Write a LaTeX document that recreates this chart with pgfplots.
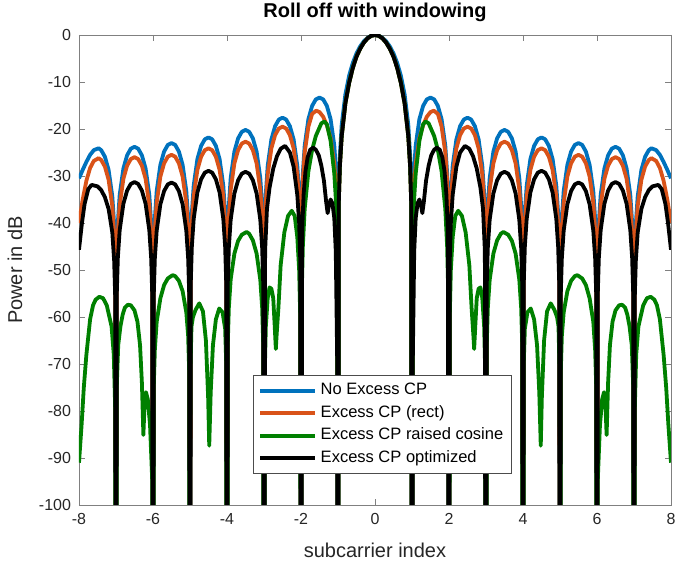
\documentclass[border=0pt]{standalone}
\usepackage{fontspec}
\setmainfont{Liberation Sans}
\usepackage{pgfplots}
\pgfplotsset{compat=1.18}
\definecolor{mblue}{rgb}{0,0.447,0.741}
\definecolor{morange}{rgb}{0.85,0.325,0.098}
\definecolor{mgreen}{rgb}{0,0.5,0}
\definecolor{axgray}{rgb}{0.15,0.15,0.15}
\begin{document}
\begin{tikzpicture}
\useasboundingbox (-79pt,-58pt) rectangle (599pt,505pt);
\begin{axis}[
 at={(0pt,0pt)}, anchor=south west,
 scale only axis, width=592pt, height=470pt,
 xmin=-8, xmax=8, ymin=-100, ymax=0,
 xtick={-8,-6,-4,-2,0,2,4,6,8},
 ytick={-100,-90,-80,-70,-60,-50,-40,-30,-20,-10,0},
 tick align=inside,
 major tick length=6pt,
 axis line style={draw=black!50, line width=0.9pt},
 every tick/.style={draw=black!50, line width=0.9pt},
 tick label style={font=\fontsize{16}{18}\selectfont, text=axgray},
 xticklabel style={yshift=-4.5pt},
 yticklabel style={xshift=-4.5pt},
 /pgf/number format/assume math mode=true,
 xlabel={subcarrier index}, ylabel={Power in dB},
 xlabel style={font=\fontsize{20}{22}\selectfont, text=axgray, at={(axis description cs:0.5,-0.0957)}, anchor=center},
 ylabel style={font=\fontsize{20}{22}\selectfont, text=axgray, at={(axis description cs:-0.108,0.5)}, anchor=center},
 title={Roll off with windowing},
 title style={font=\bfseries\fontsize{20}{22}\selectfont, at={(axis description cs:0.5,1.036)}, anchor=center},
 legend style={at={(0.294,0.2766)}, anchor=north west, draw=black!70, line width=0.8pt, font=\fontsize{16.5}{18}\selectfont, inner xsep=5pt, inner ysep=4pt, row sep=0pt, nodes={inner sep=3.5pt, text height=12pt, text depth=3.5pt}},
 legend cell align=left,
 legend image code/.code={\draw[#1] (0pt,0pt) -- (55pt,0pt);},
 clip=true,
]
\addplot[mblue, line width=3.8pt, line join=round] coordinates {
(-8,-30.5)(-7.9,-28.7)(-7.8,-27)(-7.7,-25.5)(-7.6,-24.5)(-7.47,-24.1)(-7.4,-24.5)(-7.3,-25.9)(-7.2,-28.7)(-7.1,-34.3)(-7.05,-40.2)(-7.02,-48.1)(-7,-250)
(-6.98,-47.8)(-6.95,-39.9)(-6.9,-34)(-6.8,-28.4)(-6.7,-25.6)(-6.6,-24.2)(-6.5,-23.8)(-6.4,-24.2)(-6.3,-25.6)(-6.2,-28.4)(-6.1,-34)(-6.05,-39.9)(-6.02,-47.8)(-6,-250)
(-5.98,-47)(-5.95,-39.1)(-5.9,-33.2)(-5.8,-27.6)(-5.7,-24.8)(-5.6,-23.4)(-5.5,-23)(-5.4,-23.4)(-5.3,-24.8)(-5.2,-27.6)(-5.1,-33.2)(-5.05,-39.1)(-5.02,-47)(-5,-250)
(-4.98,-45.8)(-4.95,-37.9)(-4.9,-32)(-4.8,-26.4)(-4.7,-23.6)(-4.6,-22.2)(-4.5,-21.8)(-4.4,-22.2)(-4.3,-23.6)(-4.2,-26.4)(-4.1,-32)(-4.05,-37.9)(-4.02,-45.8)(-4,-250)
(-3.98,-44.2)(-3.95,-36.3)(-3.9,-30.4)(-3.8,-24.8)(-3.7,-22)(-3.6,-20.6)(-3.5,-20.2)(-3.4,-20.6)(-3.3,-22)(-3.2,-24.8)(-3.1,-30.4)(-3.05,-36.3)(-3.02,-44.2)(-3,-250)
(-2.98,-41.6)(-2.95,-33.7)(-2.9,-27.8)(-2.8,-22.2)(-2.7,-19.4)(-2.6,-18)(-2.5,-17.6)(-2.4,-18)(-2.3,-19.4)(-2.2,-22.2)(-2.1,-27.8)(-2.05,-33.7)(-2.02,-41.6)(-2,-250)
(-1.98,-37.3)(-1.95,-29.4)(-1.9,-23.5)(-1.8,-17.9)(-1.7,-15.1)(-1.6,-13.7)(-1.5,-13.3)(-1.4,-13.7)(-1.3,-15.1)(-1.2,-17.9)(-1.1,-23.5)(-1.05,-29.4)(-1.02,-37.3)(-1,-250)
(-0.98,-33.8)(-0.95,-25.6)(-0.9,-19.1)(-0.8,-12.6)(-0.7,-8.67)(-0.6,-5.94)(-0.5,-3.92)(-0.4,-2.42)(-0.3,-1.32)(-0.2,-0.58)(-0.1,-0.14)(0,0)
(0.1,-0.14)(0.2,-0.58)(0.3,-1.32)(0.4,-2.42)(0.5,-3.92)(0.6,-5.94)(0.7,-8.67)(0.8,-12.6)(0.9,-19.1)(0.95,-25.6)(0.98,-33.8)(1,-250)
(1.02,-37.3)(1.05,-29.4)(1.1,-23.5)(1.2,-17.9)(1.3,-15.1)(1.4,-13.7)(1.5,-13.3)(1.6,-13.7)(1.7,-15.1)(1.8,-17.9)(1.9,-23.5)(1.95,-29.4)(1.98,-37.3)(2,-250)
(2.02,-41.6)(2.05,-33.7)(2.1,-27.8)(2.2,-22.2)(2.3,-19.4)(2.4,-18)(2.5,-17.6)(2.6,-18)(2.7,-19.4)(2.8,-22.2)(2.9,-27.8)(2.95,-33.7)(2.98,-41.6)(3,-250)
(3.02,-44.2)(3.05,-36.3)(3.1,-30.4)(3.2,-24.8)(3.3,-22)(3.4,-20.6)(3.5,-20.2)(3.6,-20.6)(3.7,-22)(3.8,-24.8)(3.9,-30.4)(3.95,-36.3)(3.98,-44.2)(4,-250)
(4.02,-45.8)(4.05,-37.9)(4.1,-32)(4.2,-26.4)(4.3,-23.6)(4.4,-22.2)(4.5,-21.8)(4.6,-22.2)(4.7,-23.6)(4.8,-26.4)(4.9,-32)(4.95,-37.9)(4.98,-45.8)(5,-250)
(5.02,-47)(5.05,-39.1)(5.1,-33.2)(5.2,-27.6)(5.3,-24.8)(5.4,-23.4)(5.5,-23)(5.6,-23.4)(5.7,-24.8)(5.8,-27.6)(5.9,-33.2)(5.95,-39.1)(5.98,-47)(6,-250)
(6.02,-47.8)(6.05,-39.9)(6.1,-34)(6.2,-28.4)(6.3,-25.6)(6.4,-24.2)(6.5,-23.8)(6.6,-24.2)(6.7,-25.6)(6.8,-28.4)(6.9,-34)(6.95,-39.9)(6.98,-47.8)(7,-250)
(7.02,-48.1)(7.05,-40.2)(7.1,-34.3)(7.2,-28.7)(7.3,-25.9)(7.4,-24.5)(7.47,-24.1)(7.6,-24.5)(7.7,-25.5)(7.8,-27)(7.9,-28.7)(8,-30.5)
};
\addlegendentry{No Excess CP}
\addplot[morange, line width=3.8pt, line join=round] coordinates {
(-8,-40)(-7.9,-35)(-7.8,-31)(-7.7,-28.3)(-7.6,-26.8)(-7.47,-26.2)(-7.4,-26.6)(-7.3,-28)(-7.2,-30.8)(-7.1,-36.4)(-7.05,-42.3)(-7.02,-50.2)(-7,-250)
(-6.98,-50)(-6.95,-42.1)(-6.9,-36.2)(-6.8,-30.6)(-6.7,-27.8)(-6.6,-26.4)(-6.5,-26)(-6.4,-26.4)(-6.3,-27.8)(-6.2,-30.6)(-6.1,-36.2)(-6.05,-42.1)(-6.02,-50)(-6,-250)
(-5.98,-49.5)(-5.95,-41.6)(-5.9,-35.7)(-5.8,-30.1)(-5.7,-27.3)(-5.6,-25.9)(-5.5,-25.5)(-5.4,-25.9)(-5.3,-27.3)(-5.2,-30.1)(-5.1,-35.7)(-5.05,-41.6)(-5.02,-49.5)(-5,-250)
(-4.98,-48.1)(-4.95,-40.2)(-4.9,-34.3)(-4.8,-28.7)(-4.7,-25.9)(-4.6,-24.5)(-4.5,-24.1)(-4.4,-24.5)(-4.3,-25.9)(-4.2,-28.7)(-4.1,-34.3)(-4.05,-40.2)(-4.02,-48.1)(-4,-250)
(-3.98,-46.7)(-3.95,-38.8)(-3.9,-32.9)(-3.8,-27.3)(-3.7,-24.5)(-3.6,-23.1)(-3.5,-22.7)(-3.4,-23.1)(-3.3,-24.5)(-3.2,-27.3)(-3.1,-32.9)(-3.05,-38.8)(-3.02,-46.7)(-3,-250)
(-2.98,-43.5)(-2.95,-35.6)(-2.9,-29.7)(-2.8,-24.1)(-2.7,-21.3)(-2.6,-19.9)(-2.5,-19.5)(-2.4,-19.9)(-2.3,-21.3)(-2.2,-24.1)(-2.1,-29.7)(-2.05,-35.6)(-2.02,-43.5)(-2,-250)
(-1.98,-39)(-1.95,-31)(-1.9,-25)(-1.8,-19.5)(-1.7,-16.8)(-1.59,-16.1)(-1.5,-16.4)(-1.4,-17.4)(-1.3,-19.2)(-1.2,-22)(-1.1,-27.5)(-1.05,-33)(-1.02,-40)(-1,-250)
(-0.98,-36)(-0.95,-28)(-0.9,-21.5)(-0.8,-14.5)(-0.7,-10.2)(-0.6,-7)(-0.5,-4.6)(-0.4,-2.9)(-0.3,-1.6)(-0.2,-0.7)(-0.1,-0.17)(0,0)
(0.1,-0.17)(0.2,-0.7)(0.3,-1.6)(0.4,-2.9)(0.5,-4.6)(0.6,-7)(0.7,-10.2)(0.8,-14.5)(0.9,-21.5)(0.95,-28)(0.98,-36)(1,-250)
(1.02,-40)(1.05,-33)(1.1,-27.5)(1.2,-22)(1.3,-19.2)(1.4,-17.4)(1.5,-16.4)(1.59,-16.1)(1.7,-16.8)(1.8,-19.5)(1.9,-25)(1.95,-31)(1.98,-39)(2,-250)
(2.02,-43.5)(2.05,-35.6)(2.1,-29.7)(2.2,-24.1)(2.3,-21.3)(2.4,-19.9)(2.5,-19.5)(2.6,-19.9)(2.7,-21.3)(2.8,-24.1)(2.9,-29.7)(2.95,-35.6)(2.98,-43.5)(3,-250)
(3.02,-46.7)(3.05,-38.8)(3.1,-32.9)(3.2,-27.3)(3.3,-24.5)(3.4,-23.1)(3.5,-22.7)(3.6,-23.1)(3.7,-24.5)(3.8,-27.3)(3.9,-32.9)(3.95,-38.8)(3.98,-46.7)(4,-250)
(4.02,-48.1)(4.05,-40.2)(4.1,-34.3)(4.2,-28.7)(4.3,-25.9)(4.4,-24.5)(4.5,-24.1)(4.6,-24.5)(4.7,-25.9)(4.8,-28.7)(4.9,-34.3)(4.95,-40.2)(4.98,-48.1)(5,-250)
(5.02,-49.5)(5.05,-41.6)(5.1,-35.7)(5.2,-30.1)(5.3,-27.3)(5.4,-25.9)(5.5,-25.5)(5.6,-25.9)(5.7,-27.3)(5.8,-30.1)(5.9,-35.7)(5.95,-41.6)(5.98,-49.5)(6,-250)
(6.02,-50)(6.05,-42.1)(6.1,-36.2)(6.2,-30.6)(6.3,-27.8)(6.4,-26.4)(6.5,-26)(6.6,-26.4)(6.7,-27.8)(6.8,-30.6)(6.9,-36.2)(6.95,-42.1)(6.98,-50)(7,-250)
(7.02,-50.2)(7.05,-42.3)(7.1,-36.4)(7.2,-30.8)(7.3,-28)(7.4,-26.6)(7.47,-26.2)(7.6,-26.8)(7.7,-28.3)(7.8,-31)(7.9,-35)(8,-40)
};
\addlegendentry{Excess CP (rect)}
\addplot[mgreen, line width=3.8pt, line join=round] coordinates {
(-8,-91)(-7.93,-83)(-7.87,-75)(-7.8,-68)(-7.7,-60.5)(-7.62,-57.5)(-7.55,-56.3)(-7.45,-55.7)(-7.35,-56)(-7.25,-57.5)(-7.12,-62)(-7.06,-68)(-7.02,-80)(-7,-250)
(-6.98,-75)(-6.94,-66)(-6.88,-62)(-6.82,-59.5)(-6.76,-58)(-6.68,-57.4)(-6.6,-57.5)(-6.5,-58.6)(-6.42,-61)(-6.35,-66)(-6.3,-74)(-6.26,-85.1)(-6.23,-79)(-6.19,-76)(-6.14,-77.5)(-6.08,-83)(-6.02,-95)(-6,-250)
(-5.98,-75)(-5.95,-67)(-5.9,-61)(-5.8,-56)(-5.7,-53.2)(-5.6,-51.8)(-5.47,-51.1)(-5.4,-51.3)(-5.3,-52.3)(-5.2,-54.5)(-5.1,-59)(-5.05,-64)(-5.02,-72)(-5,-250)
(-4.99,-72)(-4.96,-62)(-4.92,-60)(-4.85,-58.5)(-4.75,-57.1)(-4.65,-58.8)(-4.57,-65)(-4.51,-77)(-4.48,-87.4)(-4.44,-76)(-4.38,-66)(-4.3,-60.5)(-4.21,-58.2)(-4.12,-59)(-4.05,-62.5)(-4.02,-70)(-4,-250)
(-3.98,-66)(-3.95,-58)(-3.9,-52)(-3.8,-46.5)(-3.7,-43.8)(-3.6,-42.5)(-3.47,-41.9)(-3.4,-42.3)(-3.3,-43.7)(-3.2,-46.5)(-3.1,-52.1)(-3.05,-58)(-3.02,-66)(-3,-250)
(-2.98,-72)(-2.95,-62)(-2.9,-56)(-2.85,-53.7)(-2.8,-54)(-2.75,-56)(-2.71,-62)(-2.68,-66.8)(-2.66,-64)(-2.61,-58)(-2.55,-49)(-2.45,-42)(-2.35,-38.5)(-2.25,-37.4)(-2.17,-38.5)(-2.1,-43)(-2.05,-50)(-2.02,-60)(-2,-250)
(-1.98,-55)(-1.95,-45)(-1.9,-37)(-1.8,-29)(-1.7,-24.5)(-1.6,-21.5)(-1.45,-18.8)(-1.37,-18.4)(-1.3,-19)(-1.2,-22.5)(-1.1,-29.5)(-1.05,-36)(-1.02,-45)(-1,-250)
(-0.98,-36)(-0.95,-28)(-0.9,-21.5)(-0.8,-14.5)(-0.7,-10.2)(-0.6,-7)(-0.5,-4.6)(-0.4,-2.9)(-0.3,-1.6)(-0.2,-0.7)(-0.1,-0.17)(0,0)
(0.1,-0.17)(0.2,-0.7)(0.3,-1.6)(0.4,-2.9)(0.5,-4.6)(0.6,-7)(0.7,-10.2)(0.8,-14.5)(0.9,-21.5)(0.95,-28)(0.98,-36)(1,-250)
(1.02,-45)(1.05,-36)(1.1,-29.5)(1.2,-22.5)(1.3,-19)(1.37,-18.4)(1.45,-18.8)(1.6,-21.5)(1.7,-24.5)(1.8,-29)(1.9,-37)(1.95,-45)(1.98,-55)(2,-250)
(2.02,-60)(2.05,-50)(2.1,-43)(2.17,-38.5)(2.25,-37.4)(2.35,-38.5)(2.45,-42)(2.55,-49)(2.61,-58)(2.66,-64)(2.68,-66.8)(2.71,-62)(2.75,-56)(2.8,-54)(2.85,-53.7)(2.9,-56)(2.95,-62)(2.98,-72)(3,-250)
(3.02,-66)(3.05,-58)(3.1,-52.1)(3.2,-46.5)(3.3,-43.7)(3.4,-42.3)(3.47,-41.9)(3.6,-42.5)(3.7,-43.8)(3.8,-46.5)(3.9,-52)(3.95,-58)(3.98,-66)(4,-250)
(4.02,-70)(4.05,-62.5)(4.12,-59)(4.21,-58.2)(4.3,-60.5)(4.38,-66)(4.44,-76)(4.48,-87.4)(4.51,-77)(4.57,-65)(4.65,-58.8)(4.75,-57.1)(4.85,-58.5)(4.92,-60)(4.96,-62)(4.99,-72)(5,-250)
(5.02,-72)(5.05,-64)(5.1,-59)(5.2,-54.5)(5.3,-52.3)(5.4,-51.3)(5.47,-51.1)(5.6,-51.8)(5.7,-53.2)(5.8,-56)(5.9,-61)(5.95,-67)(5.98,-75)(6,-250)
(6.02,-95)(6.08,-83)(6.14,-77.5)(6.19,-76)(6.23,-79)(6.26,-85.1)(6.3,-74)(6.35,-66)(6.42,-61)(6.5,-58.6)(6.6,-57.5)(6.68,-57.4)(6.76,-58)(6.82,-59.5)(6.88,-62)(6.94,-66)(6.98,-75)(7,-250)
(7.02,-80)(7.06,-68)(7.12,-62)(7.25,-57.5)(7.35,-56)(7.45,-55.7)(7.55,-56.3)(7.62,-57.5)(7.7,-60.5)(7.8,-68)(7.87,-75)(7.93,-83)(8,-91)
};
\addlegendentry{Excess CP raised cosine}
\addplot[black, line width=3.8pt, line join=round] coordinates {
(-8,-45.7)(-7.92,-40)(-7.85,-36)(-7.75,-32.8)(-7.66,-31.9)(-7.5,-32.2)(-7.4,-33)(-7.3,-34.5)(-7.2,-37)(-7.1,-42)(-7.05,-48)(-7.02,-56)(-7,-250)
(-6.98,-55.3)(-6.95,-47.4)(-6.9,-41.5)(-6.8,-35.9)(-6.7,-33.1)(-6.6,-31.7)(-6.5,-31.3)(-6.4,-31.7)(-6.3,-33.1)(-6.2,-35.9)(-6.1,-41.5)(-6.05,-47.4)(-6.02,-55.3)(-6,-250)
(-5.98,-55.4)(-5.95,-47.5)(-5.9,-41.6)(-5.8,-36)(-5.7,-33.2)(-5.6,-31.8)(-5.5,-31.4)(-5.4,-31.8)(-5.3,-33.2)(-5.2,-36)(-5.1,-41.6)(-5.05,-47.5)(-5.02,-55.4)(-5,-250)
(-4.98,-52.9)(-4.95,-45)(-4.9,-39.1)(-4.8,-33.5)(-4.7,-30.7)(-4.6,-29.3)(-4.5,-28.9)(-4.4,-29.3)(-4.3,-30.7)(-4.2,-33.5)(-4.1,-39.1)(-4.05,-45)(-4.02,-52.9)(-4,-250)
(-3.98,-53.1)(-3.95,-45.2)(-3.9,-39.3)(-3.8,-33.7)(-3.7,-30.9)(-3.6,-29.5)(-3.5,-29.1)(-3.4,-29.5)(-3.3,-30.9)(-3.2,-33.7)(-3.1,-39.3)(-3.05,-45.2)(-3.02,-53.1)(-3,-250)
(-2.97,-46)(-2.92,-37)(-2.85,-32.5)(-2.75,-28.4)(-2.65,-25.8)(-2.55,-24.2)(-2.43,-23.6)(-2.3,-25)(-2.2,-28)(-2.1,-34)(-2.05,-40)(-2.02,-48)(-2,-250)
(-1.97,-42)(-1.93,-34)(-1.88,-29)(-1.82,-26)(-1.75,-24.4)(-1.67,-24)(-1.6,-24.4)(-1.52,-25.6)(-1.45,-27.8)(-1.38,-31)(-1.32,-35.5)(-1.28,-37.9)(-1.25,-36.5)(-1.2,-35)(-1.15,-35.8)(-1.1,-39)(-1.06,-46)(-1.02,-70)(-1,-250)
(-0.98,-36)(-0.95,-28)(-0.9,-21.5)(-0.8,-14.5)(-0.7,-10.2)(-0.6,-7)(-0.5,-4.6)(-0.4,-2.9)(-0.3,-1.6)(-0.2,-0.7)(-0.1,-0.17)(0,0)
(0.1,-0.17)(0.2,-0.7)(0.3,-1.6)(0.4,-2.9)(0.5,-4.6)(0.6,-7)(0.7,-10.2)(0.8,-14.5)(0.9,-21.5)(0.95,-28)(0.98,-36)(1,-250)
(1.02,-70)(1.06,-46)(1.1,-39)(1.15,-35.8)(1.2,-35)(1.25,-36.5)(1.28,-37.9)(1.32,-35.5)(1.38,-31)(1.45,-27.8)(1.52,-25.6)(1.6,-24.4)(1.67,-24)(1.75,-24.4)(1.82,-26)(1.88,-29)(1.93,-34)(1.97,-42)(2,-250)
(2.02,-48)(2.05,-40)(2.1,-34)(2.2,-28)(2.3,-25)(2.43,-23.6)(2.55,-24.2)(2.65,-25.8)(2.75,-28.4)(2.85,-32.5)(2.92,-37)(2.97,-46)(3,-250)
(3.02,-53.1)(3.05,-45.2)(3.1,-39.3)(3.2,-33.7)(3.3,-30.9)(3.4,-29.5)(3.5,-29.1)(3.6,-29.5)(3.7,-30.9)(3.8,-33.7)(3.9,-39.3)(3.95,-45.2)(3.98,-53.1)(4,-250)
(4.02,-52.9)(4.05,-45)(4.1,-39.1)(4.2,-33.5)(4.3,-30.7)(4.4,-29.3)(4.5,-28.9)(4.6,-29.3)(4.7,-30.7)(4.8,-33.5)(4.9,-39.1)(4.95,-45)(4.98,-52.9)(5,-250)
(5.02,-55.4)(5.05,-47.5)(5.1,-41.6)(5.2,-36)(5.3,-33.2)(5.4,-31.8)(5.5,-31.4)(5.6,-31.8)(5.7,-33.2)(5.8,-36)(5.9,-41.6)(5.95,-47.5)(5.98,-55.4)(6,-250)
(6.02,-55.3)(6.05,-47.4)(6.1,-41.5)(6.2,-35.9)(6.3,-33.1)(6.4,-31.7)(6.5,-31.3)(6.6,-31.7)(6.7,-33.1)(6.8,-35.9)(6.9,-41.5)(6.95,-47.4)(6.98,-55.3)(7,-250)
(7.02,-56)(7.05,-48)(7.1,-42)(7.2,-37)(7.3,-34.5)(7.4,-33)(7.5,-32.2)(7.66,-31.9)(7.75,-32.8)(7.85,-36)(7.92,-40)(8,-45.7)
};
\addlegendentry{Excess CP optimized}
\end{axis}
\end{tikzpicture}
\end{document}
